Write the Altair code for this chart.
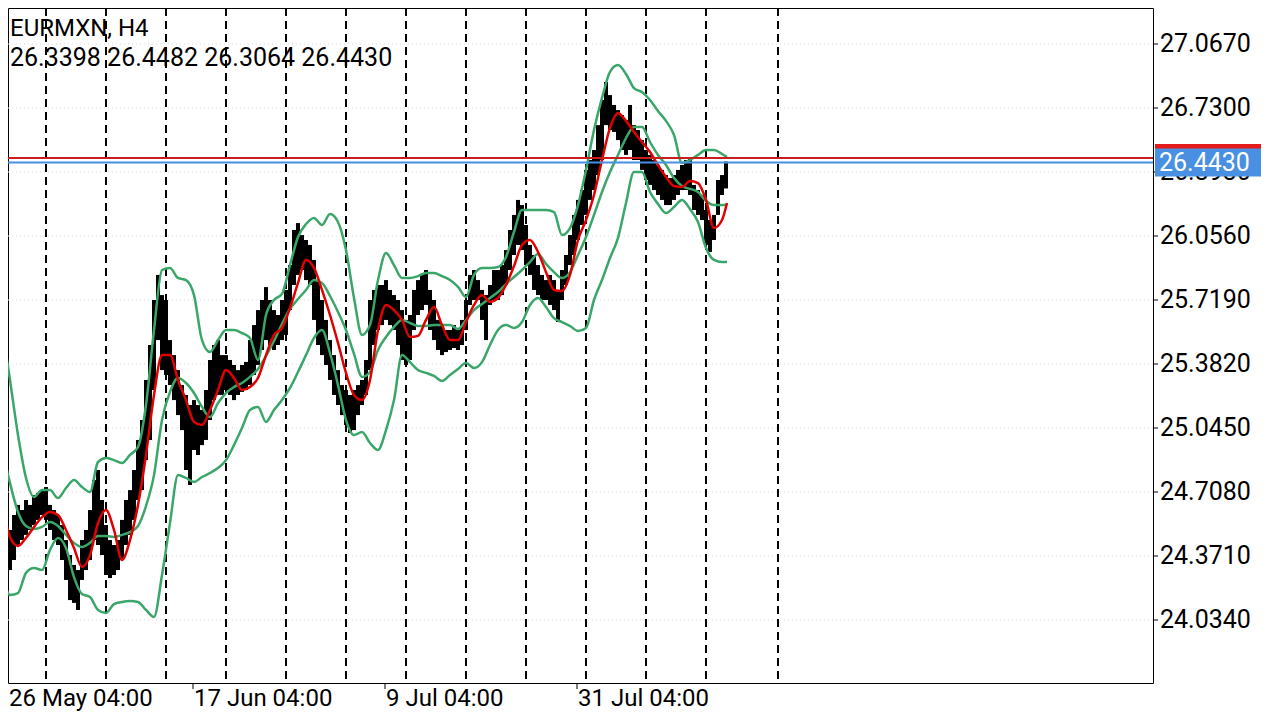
import altair as alt
import pandas as pd

# ---------------- data ----------------
symbol = "EURMXN, H4"
ohlc = [26.3398, 26.4482, 26.3064, 26.4430]
bid = 26.4430
ask = 26.467

# H4 bars (every second bar, high / low)
bar_high = [
    24.534, 24.561, 24.508, 24.587, 24.640, 24.613, 24.666, 24.640, 24.692, 24.703,
    24.718, 24.734, 24.640, 24.613, 24.587, 24.534, 24.455, 24.376, 24.324, 24.297,
    24.455, 24.508, 24.613, 24.771, 24.824, 24.666, 24.534, 24.455, 24.429, 24.455,
    24.561, 24.666, 24.718, 24.824, 24.982, 25.087, 25.298, 25.482, 25.719, 25.851,
    25.745, 25.719, 25.508, 25.429, 25.350, 25.271, 25.219, 25.166, 25.192, 25.166,
    25.140, 25.245, 25.403, 25.482, 25.508, 25.429, 25.429, 25.403, 25.377, 25.350,
    25.377, 25.393, 25.508, 25.587, 25.666, 25.719, 25.787, 25.719, 25.666, 25.640,
    25.719, 25.772, 25.903, 26.088, 26.124, 26.061, 26.035, 26.009, 25.930, 25.824,
    25.719, 25.614, 25.508, 25.429, 25.350, 25.271, 25.245, 25.219, 25.245, 25.271,
    25.298, 25.403, 25.719, 25.772, 25.798, 25.798, 25.824, 25.772, 25.745, 25.719,
    25.666, 25.614, 25.640, 25.772, 25.824, 25.851, 25.877, 25.772, 25.719, 25.614,
    25.587, 25.561, 25.561, 25.587, 25.561, 25.614, 25.719, 25.851, 25.877, 25.824,
    25.772, 25.745, 25.798, 25.877, 25.877, 25.903, 25.982, 26.088, 26.167, 26.246,
    26.219, 26.114, 26.009, 25.956, 25.903, 25.851, 25.824, 25.851, 25.824, 25.772,
    25.877, 25.956, 26.061, 26.167, 26.246, 26.298, 26.404, 26.456, 26.509, 26.640,
    26.772, 26.867, 26.798, 26.746, 26.719, 26.693, 26.667, 26.746, 26.640, 26.614,
    26.561, 26.509, 26.483, 26.456, 26.430, 26.404, 26.377, 26.361, 26.377, 26.404,
    26.430, 26.456, 26.467, 26.325, 26.298, 26.272, 26.193, 26.140, 26.167, 26.351,
    26.377, 26.4482,
]
bar_low = [
    24.271, 24.218, 24.297, 24.350, 24.429, 24.455, 24.482, 24.508, 24.534, 24.561,
    24.587, 24.561, 24.508, 24.455, 24.429, 24.350, 24.245, 24.139, 24.124, 24.087,
    24.245, 24.297, 24.350, 24.455, 24.429, 24.376, 24.271, 24.255, 24.271, 24.297,
    24.350, 24.429, 24.482, 24.561, 24.666, 24.718, 24.876, 24.982, 25.245, 25.508,
    25.350, 25.324, 25.271, 25.192, 25.113, 25.034, 24.824, 24.745, 24.929, 24.903,
    24.955, 24.982, 25.087, 25.192, 25.219, 25.219, 25.245, 25.219, 25.192, 25.219,
    25.235, 25.245, 25.271, 25.324, 25.377, 25.456, 25.508, 25.482, 25.456, 25.482,
    25.508, 25.535, 25.666, 25.798, 25.851, 25.877, 25.824, 25.798, 25.614, 25.482,
    25.429, 25.377, 25.298, 25.219, 25.166, 25.113, 25.061, 25.019, 25.034, 25.113,
    25.166, 25.219, 25.350, 25.482, 25.561, 25.587, 25.614, 25.587, 25.561, 25.482,
    25.403, 25.377, 25.403, 25.561, 25.640, 25.666, 25.693, 25.561, 25.508, 25.456,
    25.429, 25.445, 25.456, 25.466, 25.456, 25.482, 25.561, 25.693, 25.719, 25.719,
    25.614, 25.508, 25.693, 25.719, 25.719, 25.745, 25.798, 25.877, 25.956, 26.009,
    25.982, 25.903, 25.851, 25.772, 25.745, 25.719, 25.719, 25.693, 25.666, 25.603,
    25.719, 25.798, 25.903, 25.956, 26.035, 26.114, 26.167, 26.246, 26.298, 26.377,
    26.456, 26.640, 26.614, 26.604, 26.561, 26.509, 26.483, 26.509, 26.456, 26.456,
    26.404, 26.351, 26.325, 26.298, 26.272, 26.246, 26.219, 26.219, 26.246, 26.272,
    26.298, 26.298, 26.272, 26.193, 26.167, 26.140, 26.009, 25.972, 26.035, 26.167,
    26.272, 26.3064,
]

# indicator lines (every fourth bar, plus the last bar)
red_ma = [
    24.666, 24.471, 24.424, 24.466, 24.524, 24.576, 24.603, 24.587, 24.508, 24.413,
    24.313, 24.376, 24.545, 24.613, 24.508, 24.350, 24.455, 24.640, 24.903, 25.219,
    25.429, 25.429, 25.298, 25.192, 25.077, 25.061, 25.140, 25.245, 25.350, 25.308,
    25.245, 25.261, 25.308, 25.429, 25.535, 25.572, 25.677, 25.809, 25.930, 25.888,
    25.772, 25.640, 25.493, 25.335, 25.219, 25.192, 25.298, 25.561, 25.693, 25.666,
    25.614, 25.524, 25.530, 25.614, 25.682, 25.587, 25.508, 25.508, 25.603, 25.693,
    25.745, 25.709, 25.730, 25.798, 25.898, 26.009, 26.035, 25.972, 25.866, 25.772,
    25.767, 25.851, 26.035, 26.140, 26.272, 26.456, 26.625, 26.704, 26.662, 26.604,
    26.551, 26.498, 26.430, 26.367, 26.319, 26.314, 26.346, 26.335, 26.246, 26.098,
    26.140, 26.230,
]
bb_upper = [
    25.577, 25.298, 25.008, 24.782, 24.682, 24.718, 24.718, 24.676, 24.729, 24.771,
    24.734, 24.708, 24.866, 24.887, 24.876, 24.861, 24.903, 24.945, 25.166, 25.561,
    25.877, 25.888, 25.835, 25.824, 25.745, 25.508, 25.445, 25.508, 25.561, 25.561,
    25.545, 25.519, 25.403, 25.640, 25.719, 25.751, 25.903, 26.051, 26.119, 26.151,
    26.114, 26.172, 26.130, 25.982, 25.730, 25.535, 25.587, 25.824, 25.966, 25.903,
    25.835, 25.835, 25.845, 25.861, 25.861, 25.845, 25.824, 25.788, 25.735, 25.851,
    25.888, 25.888, 25.893, 25.946, 26.077, 26.193, 26.193, 26.193, 26.193, 26.182,
    26.061, 26.098, 26.219, 26.404, 26.614, 26.783, 26.920, 26.956, 26.909, 26.835,
    26.814, 26.772, 26.714, 26.662, 26.588, 26.440, 26.456, 26.483, 26.509, 26.509,
    26.488, 26.472,
]
bb_mid = [
    24.945, 24.755, 24.603, 24.529, 24.513, 24.524, 24.550, 24.529, 24.482, 24.440,
    24.419, 24.440, 24.476, 24.476, 24.471, 24.482, 24.497, 24.529, 24.634, 24.797,
    25.087, 25.235, 25.308, 25.282, 25.229, 25.156, 25.103, 25.177, 25.229, 25.261,
    25.282, 25.314, 25.356, 25.424, 25.503, 25.593, 25.672, 25.724, 25.772, 25.824,
    25.809, 25.740, 25.656, 25.561, 25.435, 25.314, 25.340, 25.456, 25.524, 25.577,
    25.614, 25.598, 25.582, 25.582, 25.587, 25.587, 25.587, 25.566, 25.614, 25.666,
    25.698, 25.730, 25.761, 25.803, 25.840, 25.877, 25.919, 25.961, 25.909, 25.866,
    25.835, 25.866, 25.956, 26.051, 26.167, 26.288, 26.393, 26.483, 26.572, 26.630,
    26.630, 26.551, 26.483, 26.430, 26.361, 26.319, 26.304, 26.288, 26.240, 26.219,
    26.219, 26.219,
]
bb_lower = [
    24.297, 24.166, 24.176, 24.282, 24.308, 24.297, 24.403, 24.466, 24.413, 24.260,
    24.171, 24.155, 24.087, 24.071, 24.118, 24.129, 24.134, 24.129, 24.087, 24.050,
    24.271, 24.545, 24.797, 24.782, 24.761, 24.787, 24.808, 24.834, 24.876, 24.955,
    25.045, 25.140, 25.156, 25.077, 25.140, 25.192, 25.256, 25.340, 25.429, 25.519,
    25.561, 25.440, 25.271, 25.087, 25.008, 25.024, 24.966, 24.929, 25.034, 25.192,
    25.429, 25.392, 25.350, 25.335, 25.319, 25.293, 25.324, 25.356, 25.387, 25.361,
    25.392, 25.482, 25.561, 25.587, 25.572, 25.603, 25.693, 25.730, 25.682, 25.624,
    25.603, 25.582, 25.556, 25.572, 25.719, 25.824, 25.940, 26.046, 26.230, 26.393,
    26.393, 26.288, 26.225, 26.177, 26.209, 26.246, 26.198, 26.130, 25.993, 25.930,
    25.919, 25.919,
]

# weekly separators (bar index) and time axis labels
sep_t = [22.5, 52.5, 82.5, 112.5, 142.5, 172.5, 202.5, 232.5, 262.5, 292.5, 322.5, 352.5, 388.5]
tick_t = [0, 96, 192, 288]
tick_labels = ["26 May 04:00", "17 Jun 04:00", "9 Jul 04:00", "31 Jul 04:00"]
price_ticks = [24.034, 24.371, 24.708, 25.045, 25.382, 25.719, 26.056, 26.393, 26.730, 27.067]

# visible window of the chart (bar index range and price range)
t_window = [3.5, 576]
p_window = [23.7023, 27.2566]

# ---------------- tables ----------------
bars = pd.DataFrame({
    "t": [0.5 + 2 * k for k in range(len(bar_high))],
    "high": bar_high,
    "low": bar_low,
})
line_t = [0.5 + 4 * k for k in range(len(red_ma) - 1)] + [363]
lines = pd.DataFrame({"t": line_t, "red": red_ma, "up": bb_upper, "mid": bb_mid, "lo": bb_lower})
seps = pd.DataFrame({"t": sep_t})
quote = pd.DataFrame({"bid": [bid], "ask": [ask], "lbl": [f"{bid:.4f}"]})
head1 = pd.DataFrame({"s": [symbol]})
head2 = pd.DataFrame({"s": [" ".join(f"{v:.4f}" for v in ohlc)]})
price_df = pd.DataFrame({"p": price_ticks, "lbl": [f"{p:.4f}" for p in price_ticks]})
time_df = pd.DataFrame({"t": tick_t, "lbl": tick_labels})

FONT = "Roboto"
GREEN = "#3aa66a"
RED = "#e00000"
BLUE = "#4a90e2"
W, H = 1145, 675

xscale = alt.Scale(domain=t_window, nice=False, zero=False)
yscale = alt.Scale(domain=p_window, nice=False, zero=False)

def X(field):
    return alt.X(f"{field}:Q", scale=xscale, axis=None)

def Y(field):
    return alt.Y(f"{field}:Q", scale=yscale, axis=None)

# --- price axis (right), drawn with marks ---
grid = alt.Chart(price_df).mark_rule(color="#d9d9d9", strokeDash=[1, 3], strokeWidth=1).encode(
    x=alt.value(0), x2=alt.value(W), y=Y("p")
)
ytick = alt.Chart(price_df).mark_rule(color="black", strokeWidth=1).encode(
    x=alt.value(W), x2=alt.value(W + 5), y=Y("p")
)
ylab = alt.Chart(price_df).mark_text(
    font=FONT, fontSize=25, align="left", baseline="middle", color="black"
).encode(x=alt.value(W + 7), y=Y("p"), text="lbl:N")

# --- time axis (bottom), drawn with marks ---
xtick = alt.Chart(time_df).mark_rule(color="black", strokeWidth=1).encode(
    x=X("t"), y=alt.value(H), y2=alt.value(H + 6)
)
xlab = alt.Chart(time_df).transform_calculate(
    tx=f"max(datum.t, {t_window[0]})"
).mark_text(
    font=FONT, fontSize=24, align="left", baseline="alphabetic", dx=1, color="black"
).encode(x=X("tx"), y=alt.value(H + 23), text="lbl:N")

# --- chart content ---
sep_layer = alt.Chart(seps).mark_rule(color="black", strokeWidth=2, strokeDash=[8, 5]).encode(
    x=X("t")
)
bar_layer = alt.Chart(bars).mark_rule(color="black", strokeWidth=4, clip=True).encode(
    x=X("t"), y=Y("high"), y2="low:Q"
)

def band(field, color, w):
    return alt.Chart(lines).mark_line(
        color=color, strokeWidth=w, interpolate="monotone", clip=True
    ).encode(x=X("t"), y=Y(field))

ask_line = alt.Chart(quote).mark_rule(color="#c81e1e", strokeWidth=2).encode(y=Y("ask"))
bid_line = alt.Chart(quote).mark_rule(color=BLUE, strokeWidth=2).encode(y=Y("bid"))
ask_box = alt.Chart(quote).mark_rect(color="#e41b1b", yOffset=-14, y2Offset=14).encode(
    x=alt.value(W + 2), x2=alt.value(W + 108), y=Y("ask"), y2="ask:Q"
)
bid_box = alt.Chart(quote).mark_rect(color=BLUE, yOffset=-14, y2Offset=14).encode(
    x=alt.value(W + 2), x2=alt.value(W + 108), y=Y("bid"), y2="bid:Q"
)
bid_text = alt.Chart(quote).mark_text(
    color="white", font=FONT, fontSize=25, align="left", baseline="middle"
).encode(x=alt.value(W + 6), y=Y("bid"), text="lbl:N")

t1 = alt.Chart(head1).mark_text(
    color="black", font=FONT, fontSize=24, align="left", baseline="alphabetic"
).encode(x=alt.value(2), y=alt.value(28), text="s:N")
t2 = alt.Chart(head2).mark_text(
    color="black", font=FONT, fontSize=25, align="left", baseline="alphabetic"
).encode(x=alt.value(2), y=alt.value(58), text="s:N")

chart = alt.layer(
    grid, sep_layer, bar_layer,
    band("up", GREEN, 2.5), band("mid", GREEN, 2.5), band("lo", GREEN, 2.5), band("red", RED, 2.5),
    ask_line, bid_line, ytick, ylab, xtick, xlab,
    ask_box, bid_box, bid_text, t1, t2,
).properties(
    width=W, height=H,
    padding={"left": 0, "top": 0, "right": 119, "bottom": 29},
    autosize=alt.AutoSizeParams(type="none"),
    background="white",
).configure_view(stroke="black", strokeWidth=1)

chart.save("out.html", embed_options={"renderer": "svg", "actions": False})
